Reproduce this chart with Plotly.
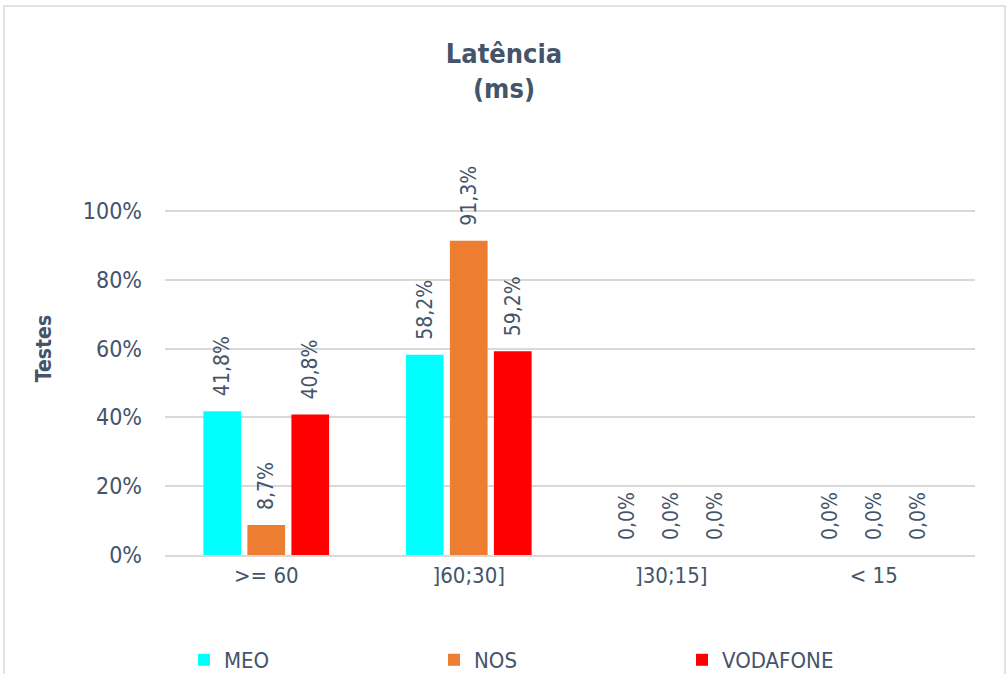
import plotly.graph_objects as go

categories = [">= 60", "]60;30]", "]30;15]", "< 15"]
meo = [0.418, 0.582, 0.0, 0.0]
nos = [0.087, 0.913, 0.0, 0.0]
vodafone = [0.408, 0.592, 0.0, 0.0]
series_names = ["MEO", "NOS", "VODAFONE"]
series_colors = ["#00FFFF", "#ED7D31", "#FF0000"]
tick_vals = [0, 0.2, 0.4, 0.6, 0.8, 1.0]
tick_text = ["0%", "20%", "40%", "60%", "80%", "100%"]

FONT = "DejaVu Sans Condensed, Liberation Sans Narrow, Liberation Sans, sans-serif"
TXT = "#44546A"

def fmt(v):
    return "\u00a0\u00a0" + f"{v*100:.1f}".replace(".", ",") + "%"

legend_ids = ["legend", "legend2", "legend3"]
legend_x = [184, 434, 682]

fig = go.Figure()
for name, vals, col, lid in zip(series_names, [meo, nos, vodafone], series_colors, legend_ids):
    fig.add_trace(go.Bar(
        x=categories, y=vals, name=name, marker_color=col, marker_line_width=0, legend=lid,
        text=[fmt(v) for v in vals], textposition="outside", textangle=-90,
        textfont=dict(size=21, color=TXT, family=FONT),
        cliponaxis=False, constraintext="none",
    ))

L, R, T, B = 165, 33, 142, 119
W, H = 1008, 674
ph = H - T - B
pw = W - L - R

def leg(x):
    return dict(orientation="h", x=x / W, xref="container", xanchor="left",
                y=1 - 660 / H, yref="container", yanchor="middle",
                font=dict(size=22, color=TXT, family=FONT), itemwidth=30,
                bgcolor="rgba(0,0,0,0)")

fig.update_layout(
    width=W, height=H,
    margin=dict(l=L, r=R, t=T, b=B),
    paper_bgcolor="white", plot_bgcolor="white",
    barmode="group", bargap=0.348, bargroupgap=0.143,
    font=dict(family=FONT, color=TXT),
    title=dict(text="<b>Latência<br>(ms)</b>", x=0.5, xref="container", xanchor="center",
               y=1 - 63 / H, yanchor="middle",
               font=dict(size=27, color=TXT, family=FONT)),
    yaxis=dict(range=[0, 1.2], tickvals=tick_vals, ticktext=tick_text,
               showgrid=True, gridcolor="#D9D9D9", gridwidth=1.5,
               zeroline=False, showline=False, ticks="", ticklabelstandoff=22,
               tickfont=dict(size=23, color=TXT, family=FONT),
               title=dict(text="<b>Testes</b>", font=dict(size=21, color=TXT, family=FONT), standoff=25)),
    xaxis=dict(showline=True, linecolor="#D9D9D9", linewidth=1.5, ticks="",
               tickfont=dict(size=22, color=TXT, family=FONT)),
    legend=leg(legend_x[0]), legend2=leg(legend_x[1]), legend3=leg(legend_x[2]),
    showlegend=True,
)

fig.add_shape(type="rect", xref="paper", yref="paper",
              x0=(4 - L) / pw, x1=(1005 - L) / pw,
              y0=(H - B - 700) / ph, y1=(H - B - 6) / ph,
              line=dict(color="#D9D9D9", width=1.5), layer="below")

fig.write_html("out.html", config={"displayModeBar": False},
               post_script="document.body.style.margin='0px';document.body.style.overflow='hidden';")
